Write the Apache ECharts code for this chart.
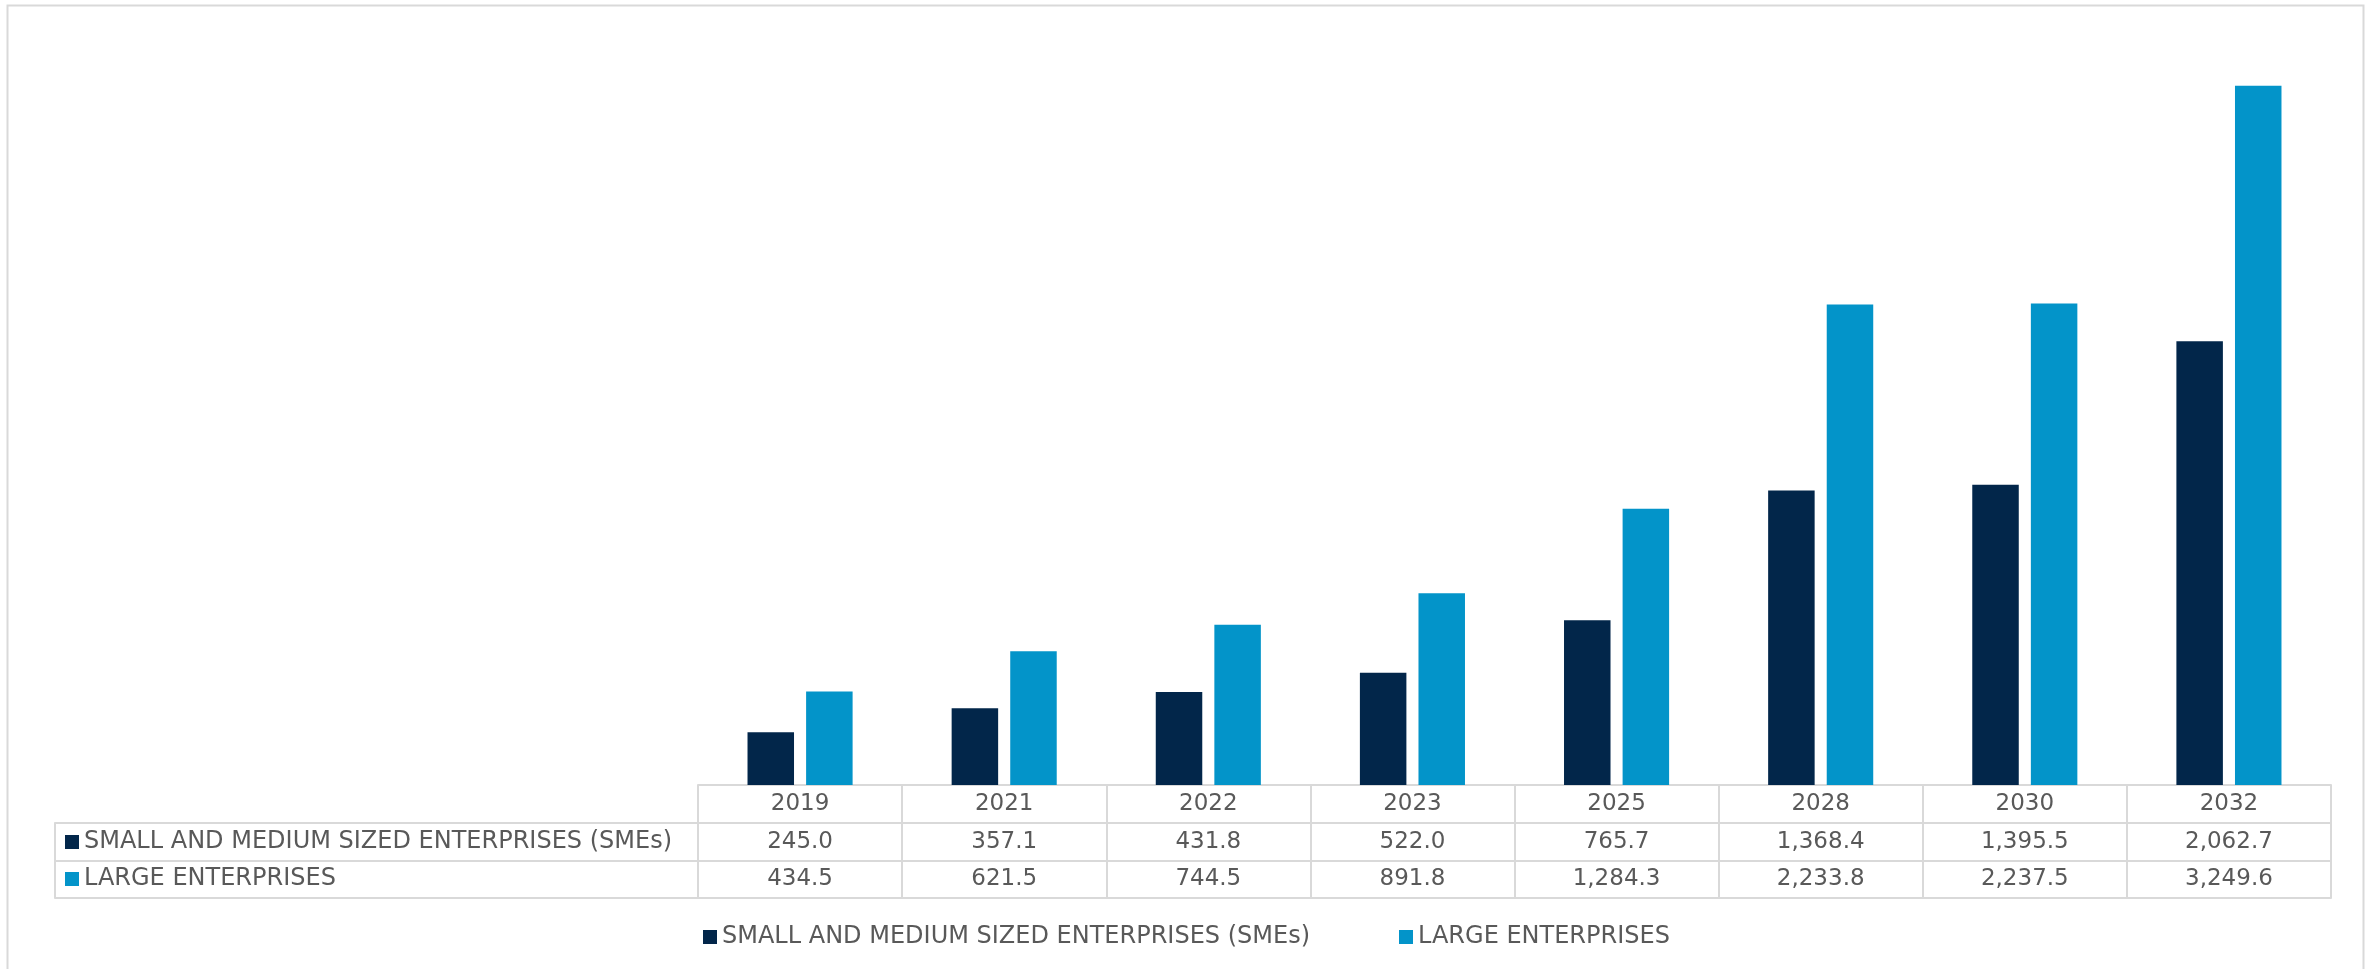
<!DOCTYPE html>
<html>
<head>
<meta charset="utf-8">
<title>SMEs vs Large Enterprises</title>
<script src="https://cdn.jsdelivr.net/npm/echarts@6/dist/echarts.min.js"></script>
<style>
  html, body { margin: 0; padding: 0; background: #ffffff; }
  #chart { width: 2367px; height: 969px; }
</style>
</head>
<body>
<div id="chart"></div>
<script>
// Market size by enterprise type, per year
const years = ['2019', '2021', '2022', '2023', '2025', '2028', '2030', '2032'];
const smeName = 'SMALL AND MEDIUM SIZED ENTERPRISES (SMEs)';
const largeName = 'LARGE ENTERPRISES';
const smeValues = [245.0, 357.1, 431.8, 522.0, 765.7, 1368.4, 1395.5, 2062.7];
const largeValues = [434.5, 621.5, 744.5, 891.8, 1284.3, 2233.8, 2237.5, 3249.6];

const FONT = 'DejaVu Sans';
const TEXT = '#595959';
const RULE = '#d9d9d9';
const ROW = 37.7;          // data-table row height
const DARK = '#02264A';
const LIGHT = '#0394C9';

const fmt = v => v.toLocaleString('en-US', { minimumFractionDigits: 1, maximumFractionDigits: 1 });

const chart = echarts.init(document.getElementById('chart'));

// horizontal table rule: an axis line shifted below the plot
function rule(gridIndex, k, data, tickLen) {
  return {
    type: 'category', gridIndex: gridIndex, position: 'bottom', offset: ROW * k,
    data: data,
    axisLine: { show: true, onZero: false, lineStyle: { color: RULE, width: 2 } },
    axisTick: tickLen ? { show: true, interval: 0, inside: false, length: tickLen, lineStyle: { color: RULE, width: 2 } } : { show: false },
    axisLabel: { show: false },
    splitLine: { show: false }
  };
}

const legendText = { color: TEXT, fontSize: 24, fontFamily: FONT };
const legendBase = { icon: 'rect', itemWidth: 14, itemHeight: 14, padding: 0, textStyle: legendText };

chart.setOption({
  animation: false,
  backgroundColor: '#ffffff',
  color: [DARK, LIGHT],
  graphic: [{
    type: 'rect', left: 5, top: 3, silent: true,
    shape: { width: 2356, height: 990 },
    style: { fill: 'none', stroke: RULE, lineWidth: 2 }
  }],
  legend: [
    Object.assign({ data: [smeName, largeName], left: 703, top: 925, itemGap: 89 }, legendBase),
    Object.assign({ data: [smeName], left: 65, top: 830, selectedMode: false }, legendBase),
    Object.assign({ data: [largeName], left: 65, top: 867, selectedMode: false }, legendBase)
  ],
  grid: [
    { left: 698, right: 36, top: 32, bottom: 184 },
    { left: 55, width: 643, top: 32, bottom: 184 }
  ],
  xAxis: [
    {
      type: 'category', gridIndex: 0, data: years, position: 'bottom',
      axisLine: { show: true, onZero: false, lineStyle: { color: RULE, width: 2 } },
      axisTick: { show: true, interval: 0, inside: false, length: ROW * 3, lineStyle: { color: RULE, width: 2 } },
      axisLabel: {
        interval: 0, margin: 0,
        formatter: (val, i) => `{y|${val}}\n{v|${fmt(smeValues[i])}}\n{v|${fmt(largeValues[i])}}`,
        rich: {
          y: { fontSize: 23, fontFamily: FONT, color: TEXT, lineHeight: ROW, height: ROW },
          v: { fontSize: 23, fontFamily: FONT, color: TEXT, lineHeight: ROW, height: ROW }
        }
      },
      splitLine: { show: false }
    },
    rule(0, 1, years), rule(0, 2, years), rule(0, 3, years),
    rule(1, 1, [''], ROW * 2), rule(1, 2, ['']), rule(1, 3, [''])
  ],
  yAxis: [
    { type: 'value', gridIndex: 0, min: 0, max: 3500, show: false, splitLine: { show: false } },
    { type: 'value', gridIndex: 1, min: 0, max: 1, show: false, splitLine: { show: false } }
  ],
  series: [
    {
      name: smeName, type: 'bar', xAxisIndex: 0, yAxisIndex: 0,
      data: smeValues, barWidth: 46.5, barGap: '26%',
      itemStyle: { color: DARK }
    },
    {
      name: largeName, type: 'bar', xAxisIndex: 0, yAxisIndex: 0,
      data: largeValues, barWidth: 46.5, barGap: '26%',
      itemStyle: { color: LIGHT }
    }
  ]
});
</script>
</body>
</html>
